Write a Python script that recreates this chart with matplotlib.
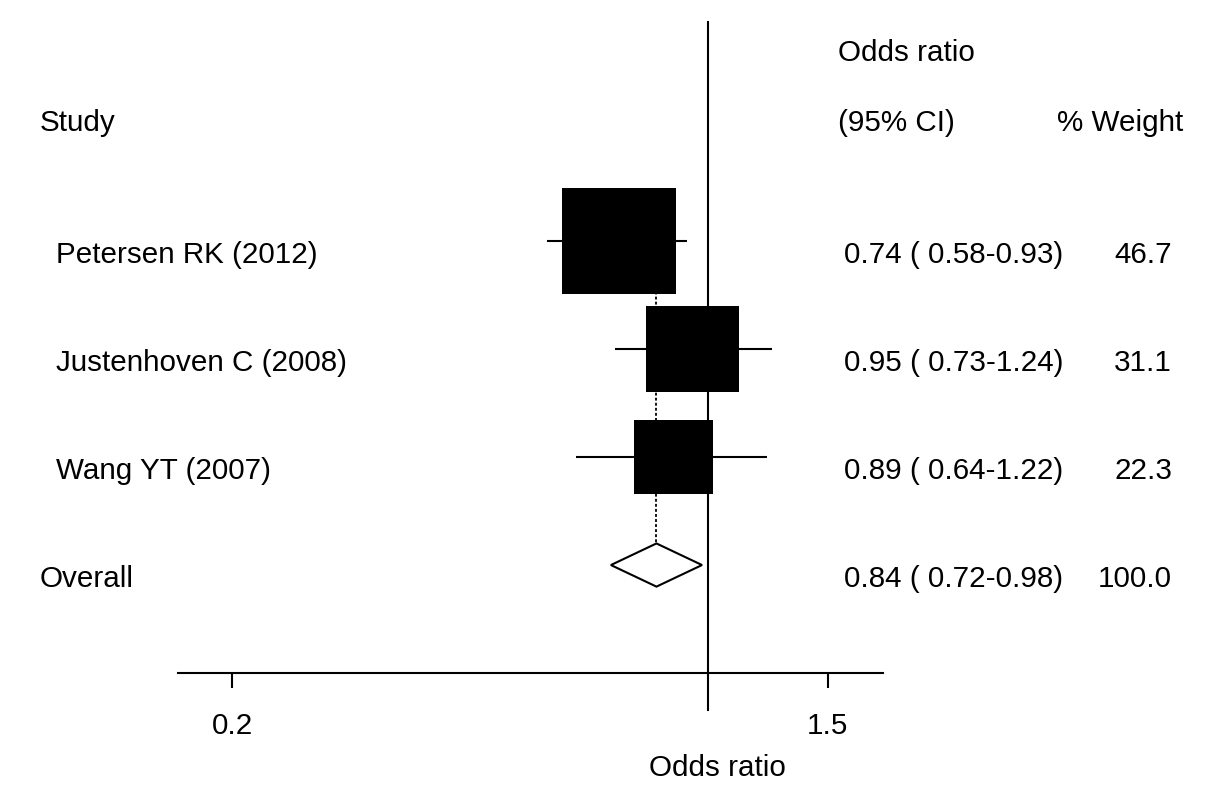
import matplotlib
matplotlib.use("Agg")
import matplotlib.pyplot as plt
import matplotlib.transforms as mtransforms
from matplotlib.patches import Polygon

plt.rcParams['font.family'] = ['Liberation Sans', 'DejaVu Sans']

# ---- data ----
studies = ["Petersen RK (2012)", "Justenhoven C (2008)", "Wang YT (2007)"]
or_est = [0.74, 0.95, 0.89]
ci_low = [0.58, 0.73, 0.64]
ci_high = [0.93, 1.24, 1.22]
weights = [46.7, 31.1, 22.3]
overall_label = "Overall"
overall_est = 0.84
overall_low = 0.72
overall_high = 0.98
overall_weight = 100.0
xticks = [0.2, 1.5]
xtick_labels = ["0.2", "1.5"]

W, H = 1205, 790
fig = plt.figure(figsize=(W / 100, H / 100), dpi=100)
ax = fig.add_axes([178 / W, (H - 673) / H, (883 - 178) / W, (673 - 22) / H])
ax.set_xscale('log')
ax.set_xlim(0.1664, 1.808)
ax.set_ylim(4.0, -2.03)

FS = 21.3
LW = 1.5

rows = list(range(len(studies)))
overall_row = len(studies)

# reference line at 1
ax.axvline(1.0, ymin=-0.057, ymax=1.0, color='black', lw=LW, clip_on=False, zorder=2)

# dotted overall line
ax.plot([overall_est, overall_est], [rows[0], overall_row], color='black', lw=1.3,
        linestyle=(0, (1.6, 1.2)), zorder=1)

# CI lines
ax.hlines(rows, ci_low, ci_high, color='black', lw=LW, zorder=3)

# boxes (area proportional to weight)
box = [(-1, -0.93), (1, -0.93), (1, 0.93), (-1, 0.93), (-1, -0.93)]
ax.scatter(or_est, rows, s=[144.3 * w for w in weights], marker=box,
           color='black', linewidths=0, zorder=4)

# overall diamond
h = 0.2
dia = Polygon([(overall_low, overall_row), (overall_est, overall_row - h),
               (overall_high, overall_row), (overall_est, overall_row + h)],
              closed=True, facecolor='white', edgecolor='black', lw=LW, zorder=4)
ax.add_patch(dia)

# axis styling
for s in ['top', 'left', 'right']:
    ax.spines[s].set_visible(False)
ax.spines['bottom'].set_linewidth(LW)
ax.set_yticks([])
ax.set_xticks(xticks)
ax.set_xticklabels(xtick_labels, fontsize=FS)
ax.xaxis.set_minor_locator(matplotlib.ticker.NullLocator())
ax.tick_params(axis='x', length=11, width=LW, pad=17)

# texts
def fx(x):
    return x / W

def fy(y):
    return 1 - y / H

fig.text(fx(717), fy(768), "Odds ratio", fontsize=FS, ha='center', va='center')
fig.text(fx(838), fy(53), "Odds ratio", fontsize=FS, ha='left', va='center')
fig.text(fx(40), fy(123), "Study", fontsize=FS, ha='left', va='center')
fig.text(fx(838), fy(123), "(95% CI)", fontsize=FS, ha='left', va='center')
fig.text(fx(1183), fy(123), "% Weight", fontsize=FS, ha='right', va='center')

trans = mtransforms.blended_transform_factory(fig.transFigure, ax.transData)
off = 0.13
for r, name, e, lo, hi, w in zip(rows, studies, or_est, ci_low, ci_high, weights):
    ax.text(fx(56), r + off, name, transform=trans, fontsize=FS, ha='left', va='center')
    ax.text(fx(844), r + off, f"{e:.2f} ( {lo:.2f}-{hi:.2f})", transform=trans,
            fontsize=FS, ha='left', va='center')
    ax.text(fx(1172), r + off, f"{w:.1f}", transform=trans, fontsize=FS, ha='right', va='center')

ax.text(fx(40), overall_row + off, overall_label, transform=trans, fontsize=FS, ha='left', va='center')
ax.text(fx(844), overall_row + off, f"{overall_est:.2f} ( {overall_low:.2f}-{overall_high:.2f})",
        transform=trans, fontsize=FS, ha='left', va='center')
ax.text(fx(1172), overall_row + off, f"{overall_weight:.1f}", transform=trans,
        fontsize=FS, ha='right', va='center')

fig.savefig("out.png", dpi=100)
